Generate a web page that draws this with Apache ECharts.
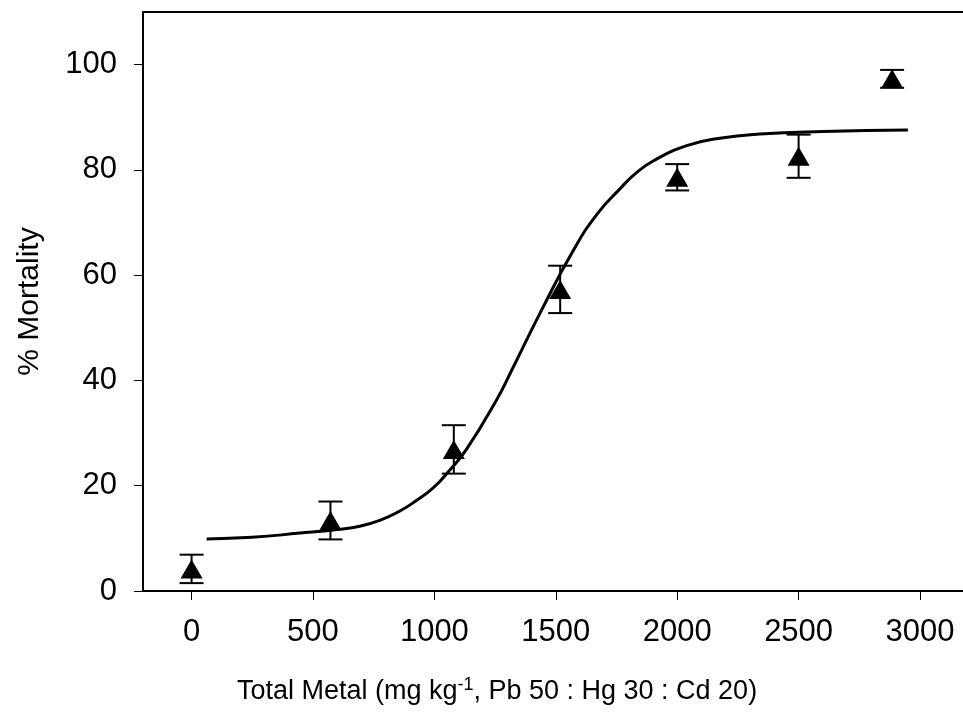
<!DOCTYPE html>
<html>
<head>
<meta charset="utf-8">
<script src="https://cdn.jsdelivr.net/npm/echarts@6/dist/echarts.min.js"></script>
<style>
  html, body { margin: 0; padding: 0; background: #fff; }
  #chart { width: 963px; height: 719px; }
</style>
</head>
<body>
<div id="chart"></div>
<script type="text/javascript">
// measured points (mean +/- error)
var doseX = [0, 572, 1080, 1518, 2000, 2500, 2885];
var mortality = [4.2, 13.4, 26.9, 57.3, 78.6, 82.6, 97.3];
var mortalityErr = [2.7, 3.6, 4.6, 4.5, 2.5, 4.1, 1.7];

// fitted curve
var fitX = [62, 250, 446, 600, 693, 780, 858, 920, 995, 1060, 1132, 1256, 1318, 1443, 1572, 1670, 1764, 1830, 1901, 2039, 2176, 2341, 2600, 2950];
var fitY = [9.9, 10.2, 11.0, 11.7, 12.3, 13.5, 15.2, 17.0, 19.6, 22.8, 26.9, 36.3, 41.9, 53.5, 64.7, 71.6, 76.4, 79.4, 81.7, 84.6, 86.0, 86.8, 87.3, 87.6];

// tick labels
var xTicks = [0, 500, 1000, 1500, 2000, 2500, 3000];
var yTicks = [0, 20, 40, 60, 80, 100];

var font = 'Liberation Sans, Arial, sans-serif';

var chart = echarts.init(document.getElementById('chart'));

var points = [];
var bars = [];
for (var i = 0; i < doseX.length; i++) {
  points.push([doseX[i], mortality[i]]);
  bars.push([doseX[i], mortality[i] - mortalityErr[i], mortality[i] + mortalityErr[i]]);
}
var curve = [];
for (var j = 0; j < fitX.length; j++) {
  curve.push([fitX[j], fitY[j]]);
}

function plain(v) { return String(v); }

var option = {
  animation: false,
  backgroundColor: '#fff',
  grid: { left: 143, top: 12, right: 0, height: 579 },
  xAxis: [{
    type: 'value',
    min: -200, max: 3177,
    name: '{n|Total Metal (mg kg}{s|-1}{n|, Pb 50 : Hg 30 : Cd 20)}',
    nameLocation: 'middle',
    nameGap: 84,
    nameTextStyle: {
      padding: [0, 112, 0, 0],
      rich: {
        n: { fontFamily: font, fontSize: 27, color: '#000', lineHeight: 34 },
        s: { fontFamily: font, fontSize: 18, color: '#000', padding: [0, 0, 14, 0] }
      }
    },
    axisLine: { show: true, onZero: false, lineStyle: { color: '#000', width: 2 } },
    axisTick: { show: true, customValues: xTicks, length: 9, lineStyle: { color: '#000', width: 1 } },
    axisLabel: { customValues: xTicks, formatter: plain, margin: 26, color: '#000', fontFamily: font, fontSize: 31 },
    splitLine: { show: false }
  }, {
    // top frame line
    type: 'value',
    position: 'top',
    min: -200, max: 3177,
    axisLine: { show: true, onZero: false, lineStyle: { color: '#000', width: 2 } },
    axisTick: { show: false },
    axisLabel: { show: false },
    splitLine: { show: false }
  }],
  yAxis: {
    type: 'value',
    min: 0, max: 110,
    name: '% Mortality',
    nameLocation: 'middle',
    nameGap: 98,
    nameTextStyle: { color: '#000', fontFamily: font, fontSize: 30 },
    axisLine: { show: true, onZero: false, lineStyle: { color: '#000', width: 2 } },
    axisTick: { show: true, customValues: yTicks, length: 9, lineStyle: { color: '#000', width: 1 } },
    axisLabel: { customValues: yTicks, formatter: plain, margin: 26, color: '#000', fontFamily: font, fontSize: 31 },
    splitLine: { show: false }
  },
  series: [
    {
      name: 'fit',
      type: 'line',
      data: curve,
      showSymbol: false,
      smooth: 0.5,
      lineStyle: { color: '#000', width: 3 },
      z: 2
    },
    {
      name: 'error',
      type: 'custom',
      data: bars,
      renderItem: function (params, api) {
        var x = api.value(0);
        var lo = api.coord([x, api.value(1)]);
        var hi = api.coord([x, api.value(2)]);
        var half = 12;
        var st = { stroke: '#000', lineWidth: 2 };
        return {
          type: 'group',
          children: [
            { type: 'line', shape: { x1: lo[0], y1: lo[1], x2: hi[0], y2: hi[1] }, style: st },
            { type: 'line', shape: { x1: lo[0] - half, y1: lo[1], x2: lo[0] + half, y2: lo[1] }, style: st },
            { type: 'line', shape: { x1: hi[0] - half, y1: hi[1], x2: hi[0] + half, y2: hi[1] }, style: st }
          ]
        };
      },
      z: 3
    },
    {
      name: 'mortality',
      type: 'scatter',
      data: points,
      symbol: 'triangle',
      symbolSize: [22, 19],
      itemStyle: { color: '#000', opacity: 1 },
      z: 4
    }
  ]
};
chart.setOption(option);
</script>
</body>
</html>
